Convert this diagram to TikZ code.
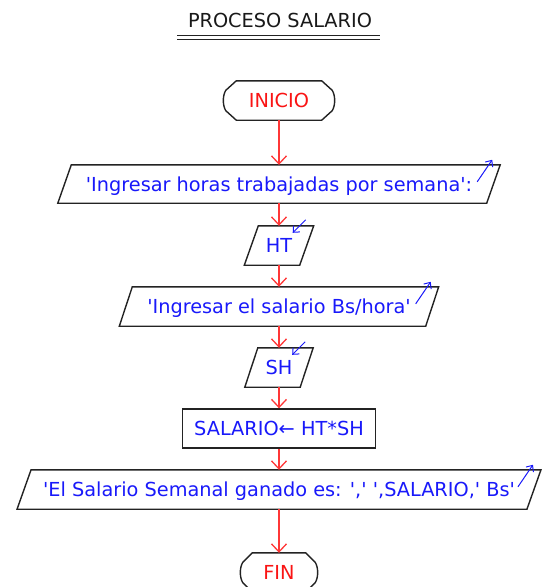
\documentclass[tikz,border=0pt]{standalone}
\usepackage{fontspec}
\setmainfont{DejaVu Sans}
\usetikzlibrary{arrows.meta,calc}
\definecolor{txtblue}{RGB}{25,25,250}
\definecolor{txtred}{RGB}{250,20,20}
\definecolor{arrred}{RGB}{255,55,55}
\definecolor{edgecol}{RGB}{35,35,35}
\definecolor{titlecol}{RGB}{25,25,25}
\newcommand\myq{\textquotesingle}
\newcommand\pgram[2]{\draw[shapeline] ($(#1.north west)+(#2,0)$) -- ($(#1.north east)+(#2,0)$) -- ($(#1.south east)+(-#2,0)$) -- ($(#1.south west)+(-#2,0)$) -- cycle;}
\newcommand\termpath[2]{\draw[shapeline] ($(#1.north west)+(#2,0)$) -- ($(#1.north east)+(-#2,0)$) -- ($(#1.north east)+(-2.5,9.5)$) .. controls ($(#1.east)+(0.8,-5)$) and ($(#1.east)+(0.8,5)$) .. ($(#1.south east)+(-2.5,-9.5)$) -- ($(#1.south east)+(-#2,0)$) -- ($(#1.south west)+(#2,0)$) -- ($(#1.south west)+(2.5,-9.5)$) .. controls ($(#1.west)+(-0.8,5)$) and ($(#1.west)+(-0.8,-5)$) .. ($(#1.north west)+(2.5,9.5)$) -- cycle;}
\newcommand\outmark[2]{\draw[bluearr] ($(#1.north east)+(#2-23,17)$) -- ($(#1.north east)+(#2-8,-5)$);}
\newcommand\inmark[2]{\draw[bluearr] ($(#1.north east)+(#2-8,-6)$) -- ($(#1.north east)+(#2-21,7)$);}
\tikzset{
  base/.style={inner sep=0pt, minimum height=39pt, text height=14pt, text depth=0pt,
    font=\fontsize{19.3}{23}\selectfont},
  iobox/.style={base, text=txtblue},
  procbox/.style={base, text=txtblue, draw=edgecol, line width=1.4pt},
  termbox/.style={base, text=txtred},
  titlebox/.style={base, text=titlecol, minimum height=0pt},
  shapeline/.style={draw=edgecol, line width=1.4pt, line join=miter},
  flow/.style={draw=arrred, line width=1.3pt, -{Straight Barb[length=8pt,width=15pt,line width=1.3pt]}},
  bluearr/.style={draw=txtblue, line width=1pt, -{Straight Barb[length=5pt,width=9pt,line width=1pt]}},
  dblline/.style={draw=edgecol, line width=1.2pt},
}
\begin{document}
\begin{tikzpicture}[x=1pt,y=-1pt]
\fill[white] (0,0) rectangle (542,587);
\useasboundingbox (0,0) rectangle (542,587);

\node[titlebox] (title) at (280,20) {PROCESO SALARIO};
\coordinate (ul1) at (177,35.5); \coordinate (ur1) at (380,35.5);
\coordinate (ul2) at (177,39.3); \coordinate (ur2) at (380,39.3);
\draw[dblline] (ul1) -- (ur1);
\draw[dblline] (ul2) -- (ur2);

\node[termbox, minimum width=111pt] (inicio) at (279,100.5) {INICIO};
\node[iobox, minimum width=428.5pt, minimum height=38pt] (p1) at (279,184) {\myq Ingresar horas trabajadas por semana\myq:};
\node[iobox, minimum width=55pt] (ht) at (279,245.5) {HT};
\node[iobox, minimum width=306pt] (p2) at (279,306.5) {\myq Ingresar el salario Bs/hora\myq};
\node[iobox, minimum width=55pt] (sh) at (279,367.5) {SH};
\node[procbox, minimum width=193pt] (calc) at (279,428.5) {SALARIO← HT*SH};
\node[iobox, minimum width=509.5pt] (p3) at (279,489.5) {\myq El Salario Semanal ganado es: \myq,\myq\ \myq,SALARIO,\myq\ Bs\myq};
\node[termbox, minimum width=77pt] (fin) at (279,572.5) {FIN};

\termpath{inicio}{13}
\termpath{fin}{12}
\pgram{p1}{6.75}
\pgram{ht}{7}
\pgram{p2}{6.5}
\pgram{sh}{6.5}
\pgram{p3}{7}

\outmark{p1}{6.75}
\outmark{p2}{6.5}
\outmark{p3}{7}
\inmark{ht}{7}
\inmark{sh}{6.5}

\draw[flow] (inicio.south) -- (p1.north);
\draw[flow] (p1.south) -- (ht.north);
\draw[flow] (ht.south) -- (p2.north);
\draw[flow] (p2.south) -- (sh.north);
\draw[flow] (sh.south) -- (calc.north);
\draw[flow] (calc.south) -- (p3.north);
\draw[flow] (p3.south) -- (fin.north);
\end{tikzpicture}
\end{document}
